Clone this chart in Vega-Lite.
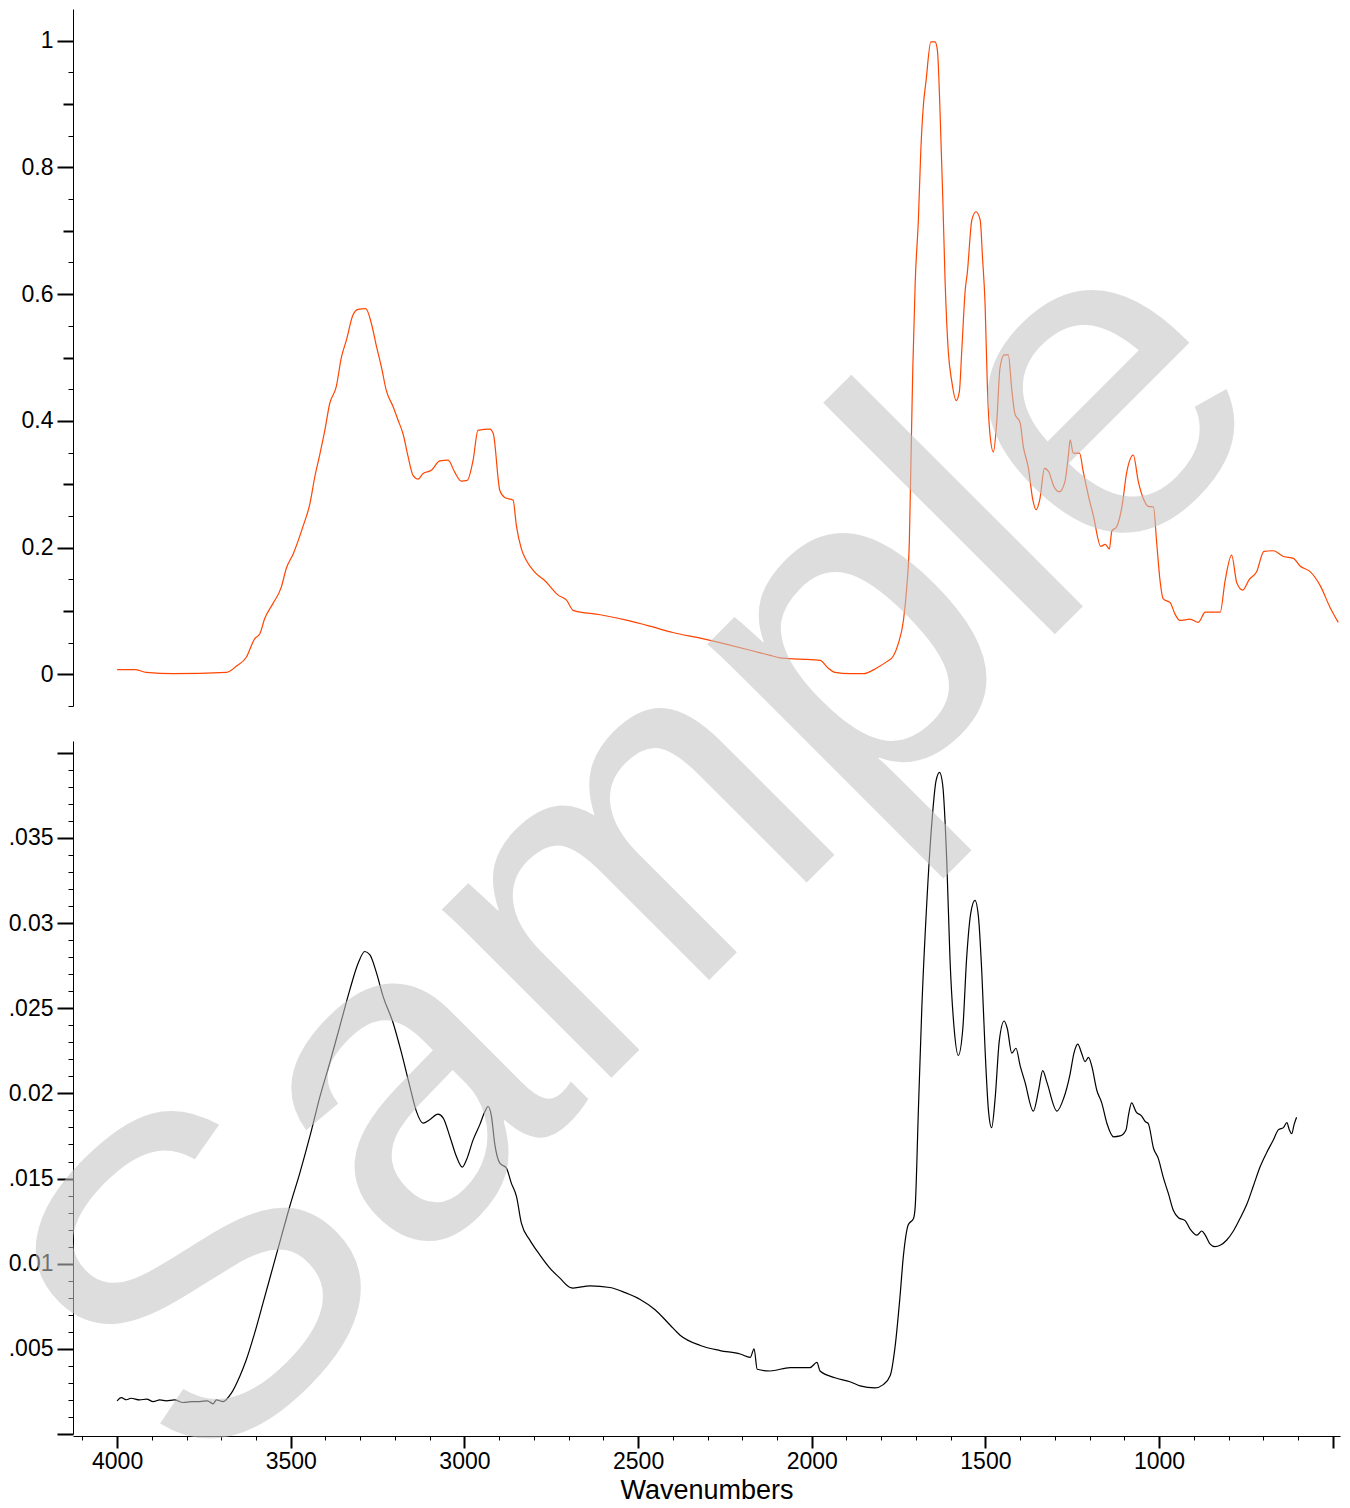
{
  "$schema": "https://vega.github.io/schema/vega-lite/v6.json",
  "autosize": {"type": "none"},
  "padding": {"left": 73, "top": 9, "right": 1277, "bottom": 1499},
  "bounds": "flush",
  "spacing": 35,
  "background": "white",
  "config": {
    "view": {"stroke": null},
    "axis": {
      "grid": false,
      "domainColor": "black",
      "domainWidth": 1,
      "tickColor": "black",
      "labelColor": "black",
      "labelFont": "Liberation Sans",
      "titleFont": "Liberation Sans",
      "titleColor": "black",
      "labelFontSize": 23,
      "titleFontWeight": "normal",
      "labelOverlap": false,
      "tickCount": 200
    }
  },
  "datasets": {
    "top": [
      {"w":4000,"a":0.0074},{"w":3949,"a":0.0074},{"w":3916,"a":0.003},{"w":3839,"a":0.001},{"w":3685,"a":0.003},{"w":3657,"a":0.0126},{"w":3628,"a":0.027},{"w":3604,"a":0.056},{"w":3589,"a":0.064},{"w":3575,"a":0.088},{"w":3551,"a":0.112},{"w":3527,"a":0.138},{"w":3513,"a":0.167},{"w":3493,"a":0.19},{"w":3465,"a":0.233},{"w":3445,"a":0.269},{"w":3431,"a":0.311},{"w":3416,"a":0.348},{"w":3402,"a":0.385},{"w":3388,"a":0.427},{"w":3369,"a":0.454},{"w":3354,"a":0.501},{"w":3340,"a":0.527},{"w":3321,"a":0.567},{"w":3306,"a":0.576},{"w":3284,"a":0.577},{"w":3268,"a":0.554},{"w":3253,"a":0.517},{"w":3239,"a":0.485},{"w":3225,"a":0.448},{"w":3205,"a":0.422},{"w":3191,"a":0.401},{"w":3177,"a":0.38},{"w":3162,"a":0.343},{"w":3148,"a":0.314},{"w":3133,"a":0.308},{"w":3119,"a":0.317},{"w":3095,"a":0.322},{"w":3071,"a":0.337},{"w":3047,"a":0.338},{"w":3028,"a":0.319},{"w":3009,"a":0.305},{"w":2992,"a":0.306},{"w":2975,"a":0.338},{"w":2961,"a":0.385},{"w":2927,"a":0.387},{"w":2917,"a":0.38},{"w":2898,"a":0.29},{"w":2884,"a":0.279},{"w":2860,"a":0.275},{"w":2850,"a":0.233},{"w":2836,"a":0.198},{"w":2822,"a":0.18},{"w":2797,"a":0.161},{"w":2769,"a":0.148},{"w":2730,"a":0.125},{"w":2706,"a":0.117},{"w":2687,"a":0.101},{"w":2609,"a":0.094},{"w":2530,"a":0.085},{"w":2466,"a":0.076},{"w":2400,"a":0.066},{"w":2321,"a":0.057},{"w":2250,"a":0.048},{"w":2177,"a":0.038},{"w":2120,"a":0.03},{"w":2091,"a":0.026},{"w":2033,"a":0.024},{"w":1976,"a":0.022},{"w":1953,"a":0.01},{"w":1933,"a":0.003},{"w":1890,"a":0.001},{"w":1851,"a":0.001},{"w":1813,"a":0.01},{"w":1784,"a":0.02},{"w":1765,"a":0.029},{"w":1751,"a":0.048},{"w":1736,"a":0.085},{"w":1726,"a":0.14},{"w":1719,"a":0.209},{"w":1714,"a":0.346},{"w":1709,"a":0.483},{"w":1702,"a":0.62},{"w":1693,"a":0.717},{"w":1686,"a":0.826},{"w":1679,"a":0.895},{"w":1671,"a":0.936},{"w":1657,"a":0.998},{"w":1645,"a":0.998},{"w":1638,"a":0.984},{"w":1631,"a":0.895},{"w":1623,"a":0.758},{"w":1616,"a":0.62},{"w":1607,"a":0.511},{"w":1597,"a":0.463},{"w":1584,"a":0.432},{"w":1575,"a":0.446},{"w":1568,"a":0.511},{"w":1558,"a":0.607},{"w":1552,"a":0.634},{"w":1539,"a":0.717},{"w":1527,"a":0.73},{"w":1515,"a":0.717},{"w":1508,"a":0.655},{"w":1501,"a":0.586},{"w":1494,"a":0.449},{"w":1487,"a":0.38},{"w":1477,"a":0.351},{"w":1467,"a":0.401},{"w":1458,"a":0.483},{"w":1446,"a":0.504},{"w":1434,"a":0.504},{"w":1424,"a":0.449},{"w":1415,"a":0.411},{"w":1400,"a":0.397},{"w":1391,"a":0.36},{"w":1376,"a":0.325},{"w":1364,"a":0.277},{"w":1354,"a":0.26},{"w":1343,"a":0.277},{"w":1330,"a":0.325},{"w":1317,"a":0.319},{"w":1304,"a":0.298},{"w":1287,"a":0.288},{"w":1271,"a":0.304},{"w":1261,"a":0.346},{"w":1256,"a":0.37},{"w":1247,"a":0.349},{"w":1229,"a":0.349},{"w":1218,"a":0.319},{"w":1203,"a":0.281},{"w":1189,"a":0.25},{"w":1168,"a":0.202},{"w":1155,"a":0.205},{"w":1143,"a":0.198},{"w":1136,"a":0.226},{"w":1122,"a":0.233},{"w":1107,"a":0.264},{"w":1093,"a":0.319},{"w":1074,"a":0.346},{"w":1060,"a":0.305},{"w":1045,"a":0.277},{"w":1031,"a":0.265},{"w":1016,"a":0.264},{"w":1007,"a":0.209},{"w":997,"a":0.147},{"w":988,"a":0.119},{"w":968,"a":0.113},{"w":954,"a":0.095},{"w":940,"a":0.085},{"w":911,"a":0.087},{"w":887,"a":0.082},{"w":867,"a":0.098},{"w":848,"a":0.098},{"w":824,"a":0.098},{"w":810,"a":0.147},{"w":791,"a":0.188},{"w":776,"a":0.144},{"w":759,"a":0.133},{"w":740,"a":0.15},{"w":719,"a":0.162},{"w":698,"a":0.194},{"w":671,"a":0.195},{"w":642,"a":0.186},{"w":613,"a":0.183},{"w":594,"a":0.171},{"w":565,"a":0.162},{"w":536,"a":0.14},{"w":508,"a":0.106},{"w":484,"a":0.082}
    ],
    "bottom": [
      {"w":4000,"a":0.00195},{"w":3988,"a":0.00214},{"w":3973,"a":0.00201},{"w":3960,"a":0.0021},{"w":3935,"a":0.002},{"w":3915,"a":0.00205},{"w":3896,"a":0.0019},{"w":3877,"a":0.002},{"w":3858,"a":0.00195},{"w":3835,"a":0.002},{"w":3810,"a":0.00185},{"w":3785,"a":0.0019},{"w":3762,"a":0.0019},{"w":3740,"a":0.00195},{"w":3724,"a":0.00177},{"w":3714,"a":0.002},{"w":3695,"a":0.0019},{"w":3671,"a":0.0024},{"w":3647,"a":0.00338},{"w":3628,"a":0.00436},{"w":3604,"a":0.00592},{"w":3580,"a":0.00768},{"w":3551,"a":0.00983},{"w":3527,"a":0.0116},{"w":3503,"a":0.01336},{"w":3474,"a":0.01532},{"w":3445,"a":0.01747},{"w":3416,"a":0.01981},{"w":3388,"a":0.02177},{"w":3359,"a":0.02392},{"w":3330,"a":0.02608},{"w":3306,"a":0.02764},{"w":3287,"a":0.02833},{"w":3272,"a":0.02813},{"w":3253,"a":0.02706},{"w":3234,"a":0.02568},{"w":3205,"a":0.02412},{"w":3181,"a":0.02236},{"w":3157,"a":0.0204},{"w":3138,"a":0.01893},{"w":3119,"a":0.01825},{"w":3100,"a":0.01845},{"w":3076,"a":0.01878},{"w":3061,"a":0.01855},{"w":3042,"a":0.01747},{"w":3023,"a":0.01629},{"w":3006,"a":0.01567},{"w":2994,"a":0.0161},{"w":2975,"a":0.01727},{"w":2956,"a":0.01815},{"w":2941,"a":0.01893},{"w":2932,"a":0.01923},{"w":2922,"a":0.01864},{"w":2913,"a":0.01708},{"w":2898,"a":0.0159},{"w":2879,"a":0.01561},{"w":2865,"a":0.01473},{"w":2850,"a":0.01394},{"w":2836,"a":0.01238},{"w":2812,"a":0.0114},{"w":2783,"a":0.01052},{"w":2754,"a":0.00974},{"w":2725,"a":0.00915},{"w":2697,"a":0.00862},{"w":2687,"a":0.00857},{"w":2638,"a":0.0087},{"w":2581,"a":0.0086},{"w":2537,"a":0.0083},{"w":2494,"a":0.0079},{"w":2451,"a":0.0073},{"w":2408,"a":0.0064},{"w":2379,"a":0.0058},{"w":2321,"a":0.0052},{"w":2264,"a":0.0049},{"w":2206,"a":0.0047},{"w":2177,"a":0.0045},{"w":2166,"a":0.005},{"w":2157,"a":0.0038},{"w":2120,"a":0.0037},{"w":2062,"a":0.0039},{"w":2005,"a":0.0039},{"w":1985,"a":0.0042},{"w":1976,"a":0.0037},{"w":1933,"a":0.0033},{"w":1890,"a":0.00307},{"w":1861,"a":0.00283},{"w":1818,"a":0.00271},{"w":1794,"a":0.0029},{"w":1774,"a":0.00343},{"w":1760,"a":0.00513},{"w":1746,"a":0.00804},{"w":1736,"a":0.01047},{"w":1722,"a":0.01229},{"w":1707,"a":0.01265},{"w":1702,"a":0.01338},{"w":1693,"a":0.01896},{"w":1683,"a":0.02503},{"w":1669,"a":0.03109},{"w":1654,"a":0.03594},{"w":1642,"a":0.03836},{"w":1632,"a":0.03885},{"w":1623,"a":0.03812},{"w":1611,"a":0.03352},{"w":1602,"a":0.02794},{"w":1590,"a":0.02381},{"w":1578,"a":0.02223},{"w":1565,"a":0.02381},{"w":1554,"a":0.02794},{"w":1542,"a":0.0306},{"w":1530,"a":0.03133},{"w":1520,"a":0.03036},{"w":1510,"a":0.02696},{"w":1501,"a":0.0226},{"w":1491,"a":0.01896},{"w":1482,"a":0.01799},{"w":1472,"a":0.01969},{"w":1460,"a":0.02308},{"w":1446,"a":0.02425},{"w":1437,"a":0.02381},{"w":1424,"a":0.02236},{"w":1412,"a":0.02265},{"w":1400,"a":0.02163},{"w":1386,"a":0.02066},{"w":1362,"a":0.01896},{"w":1347,"a":0.02017},{"w":1335,"a":0.02134},{"w":1323,"a":0.02066},{"w":1294,"a":0.01896},{"w":1275,"a":0.01969},{"w":1256,"a":0.02115},{"w":1245,"a":0.02236},{"w":1234,"a":0.02289},{"w":1223,"a":0.02236},{"w":1213,"a":0.02187},{"w":1203,"a":0.02211},{"w":1194,"a":0.02163},{"w":1179,"a":0.02017},{"w":1165,"a":0.01944},{"w":1150,"a":0.01823},{"w":1131,"a":0.01745},{"w":1112,"a":0.0175},{"w":1095,"a":0.01787},{"w":1088,"a":0.01872},{"w":1079,"a":0.01944},{"w":1066,"a":0.01891},{"w":1050,"a":0.01867},{"w":1040,"a":0.01835},{"w":1031,"a":0.01823},{"w":1016,"a":0.01678},{"w":1002,"a":0.01617},{"w":988,"a":0.01508},{"w":973,"a":0.01411},{"w":959,"a":0.01314},{"w":944,"a":0.0127},{"w":925,"a":0.01253},{"w":911,"a":0.01205},{"w":891,"a":0.01168},{"w":877,"a":0.01192},{"w":867,"a":0.01168},{"w":853,"a":0.01115},{"w":839,"a":0.011},{"w":824,"a":0.01108},{"w":805,"a":0.01139},{"w":786,"a":0.01192},{"w":767,"a":0.01265},{"w":747,"a":0.0135},{"w":728,"a":0.01459},{"w":709,"a":0.01569},{"w":690,"a":0.01653},{"w":671,"a":0.01726},{"w":656,"a":0.01787},{"w":642,"a":0.01799},{"w":632,"a":0.01828},{"w":625,"a":0.01787},{"w":618,"a":0.01763},{"w":611,"a":0.01818},{"w":604,"a":0.0186}
    ],
    "mark": [{"label": "Sample", "w": 2206, "a": 0.02848}]
  },
  "vconcat": [
    {
      "width": 1267,
      "height": 697,
      "data": {"name": "top"},
      "mark": {"type": "line", "color": "#ff4500", "strokeWidth": 1.2, "interpolate": "monotone"},
      "encoding": {
        "x": {"field": "w", "type": "quantitative", "axis": null,
              "scale": {"domain": [479, 4127], "reverse": true, "nice": false, "zero": false}},
        "y": {"field": "a", "type": "quantitative",
              "scale": {"domain": [-0.05, 1.05], "nice": false, "zero": false},
              "axis": {
                "title": null,
                "tickCount": 200,
                "values": [-0.05, 0, 0.05, 0.1, 0.15, 0.2, 0.25, 0.3, 0.35, 0.4, 0.45, 0.5, 0.55, 0.6, 0.65, 0.7, 0.75, 0.8, 0.85, 0.9, 0.95, 1],
                "labelExpr": "(abs(round(datum.value*100)) % 20 == 0) ? format(datum.value, '~g') : ''",
                "labelPadding": 4,
                "tickSize": {"condition": [{"test": "abs(round(datum.value*100)) % 20 == 0", "value": 16}, {"test": "abs(round(datum.value*100)) % 10 == 0", "value": 10}], "value": 5},
                "tickWidth": {"condition": {"test": "abs(round(datum.value*100)) % 10 == 0", "value": 2}, "value": 1}
              }}
      }
    },
    {
      "width": 1267,
      "height": 693,
      "layer": [
        {
          "data": {"name": "bottom"},
          "mark": {"type": "line", "color": "black", "strokeWidth": 1.2, "interpolate": "monotone"},
          "encoding": {
            "x": {"field": "w", "type": "quantitative",
                  "scale": {"domain": [479, 4127], "reverse": true, "nice": false, "zero": false},
                  "axis": {
                    "title": "Wavenumbers",
                    "titleFontSize": 27,
                    "titlePadding": 4,
                    "offset": 2,
                    "tickCount": 200,
                    "values": [4100, 4000, 3900, 3800, 3700, 3600, 3500, 3400, 3300, 3200, 3100, 3000, 2900, 2800, 2700, 2600, 2500, 2400, 2300, 2200, 2100, 2000, 1900, 1800, 1700, 1600, 1500, 1400, 1300, 1200, 1100, 1000, 900, 800, 700, 600, 500],
                    "labelExpr": "(round(datum.value) % 500 == 0 && datum.value >= 1000) ? format(datum.value, 'd') : ''",
                    "labelPadding": 2,
                    "labelFlush": false,
                    "tickSize": {"condition": {"test": "round(datum.value) % 500 == 0", "value": 12}, "value": 4},
                    "tickWidth": {"condition": {"test": "round(datum.value) % 500 == 0", "value": 2}, "value": 1}
                  }},
            "y": {"field": "a", "type": "quantitative",
                  "scale": {"domain": [0, 0.04069], "nice": false, "zero": false},
                  "axis": {
                    "title": null,
                    "tickCount": 200,
                    "values": [0, 0.001, 0.002, 0.003, 0.004, 0.005, 0.006, 0.007, 0.008, 0.009, 0.01, 0.011, 0.012, 0.013, 0.014, 0.015, 0.016, 0.017, 0.018, 0.019, 0.02, 0.021, 0.022, 0.023, 0.024, 0.025, 0.026, 0.027, 0.028, 0.029, 0.03, 0.031, 0.032, 0.033, 0.034, 0.035, 0.036, 0.037, 0.038, 0.039, 0.04],
                    "labelExpr": "round(datum.value*1000) == 5 ? '.005' : round(datum.value*1000) == 10 ? '0.01' : round(datum.value*1000) == 15 ? '.015' : round(datum.value*1000) == 20 ? '0.02' : round(datum.value*1000) == 25 ? '.025' : round(datum.value*1000) == 30 ? '0.03' : round(datum.value*1000) == 35 ? '.035' : ''",
                    "labelPadding": 4,
                    "tickSize": {"condition": {"test": "round(datum.value*1000) % 5 == 0", "value": 16}, "value": 5},
                    "tickWidth": {"condition": {"test": "round(datum.value*1000) % 5 == 0", "value": 2}, "value": 1}
                  }}
          }
        },
        {
          "data": {"name": "mark"},
          "mark": {"type": "text", "font": "Liberation Sans", "fontSize": 452, "angle": 315, "align": "center", "baseline": "alphabetic", "color": "#c4c4c4", "opacity": 0.57},
          "encoding": {
            "x": {"field": "w", "type": "quantitative"},
            "y": {"field": "a", "type": "quantitative"},
            "text": {"field": "label"}
          }
        }
      ]
    }
  ]
}
